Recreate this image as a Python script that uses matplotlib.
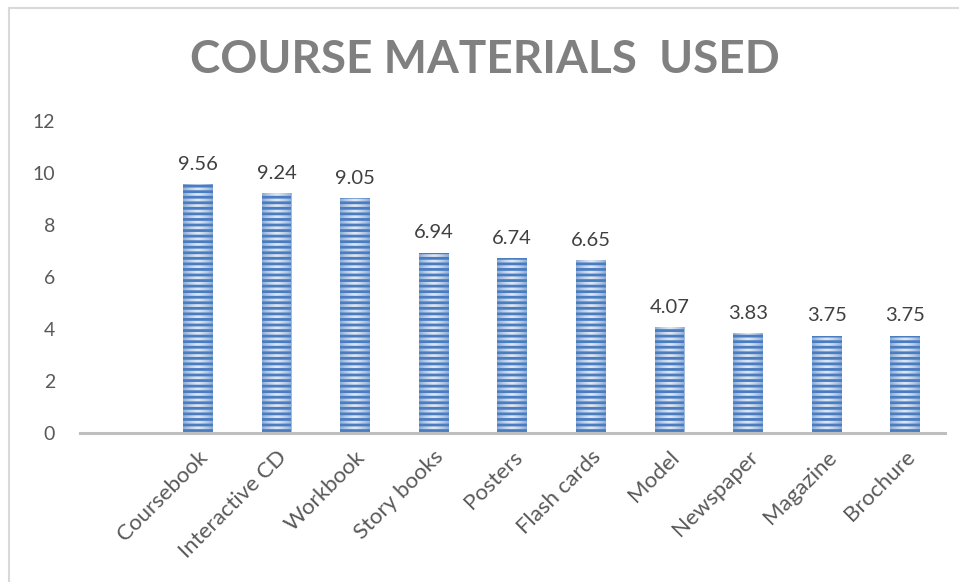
import matplotlib
matplotlib.use("Agg")
import matplotlib.pyplot as plt
import numpy as np
from matplotlib.lines import Line2D
from matplotlib.colors import LinearSegmentedColormap

categories = ["Coursebook", "Interactive CD", "Workbook", "Story books", "Posters",
              "Flash cards", "Model", "Newspaper", "Magazine", "Brochure"]
values = [9.56, 9.24, 9.05, 6.94, 6.74, 6.65, 4.07, 3.83, 3.75, 3.75]
yticks = [0, 2, 4, 6, 8, 10, 12]
title = "COURSE MATERIALS  USED"

plt.rcParams['font.family'] = ['Lato', 'DejaVu Sans']
plt.rcParams['hatch.linewidth'] = 2.0

fig = plt.figure(figsize=(9.59, 5.82), dpi=100)
ax = fig.add_axes([0.0834, 0.256, 0.9016, 0.536])

x = np.arange(len(categories))
bars = ax.bar(x, values, width=0.38, color='#c9d8ec', edgecolor='none', zorder=2)

# horizontal gradient (lighter in the middle) clipped to each bar
grad = np.abs(np.linspace(-1, 1, 64))[None, :]
cmap = LinearSegmentedColormap.from_list('g', [(1, 1, 1, 0.4), (0.42, 0.58, 0.8, 0.65)])
for b in bars:
    x0, y0 = b.get_x(), b.get_y()
    w, h = b.get_width(), b.get_height()
    im = ax.imshow(grad, extent=(x0, x0 + w, y0, y0 + h), aspect='auto', cmap=cmap,
                   vmin=0, vmax=1, zorder=3, interpolation='bilinear')
    im.set_clip_path(b)

# stripe overlay
ax.bar(x, values, width=0.38, facecolor='none', edgecolor='#4a7cc0', linewidth=0,
       hatch='---', zorder=4)

for xi, v in zip(x, values):
    ax.annotate(f"{v:.2f}", (xi, v), xytext=(0, 8), textcoords='offset points',
                ha='center', va='bottom', fontsize=14.5, color='#404040')

ax.set_xlim(-1.5, 9.5)
ax.set_ylim(0, 12)
ax.set_yticks(yticks)
ax.set_yticklabels([str(t) for t in yticks], fontsize=14, color='#595959')
ax.set_xticks(x)
ax.set_xticklabels(categories, rotation=45, ha='right', rotation_mode='anchor',
                   fontsize=16, color='#595959')
ax.tick_params(axis='y', length=0, pad=18)
ax.tick_params(axis='x', length=0, pad=10)
for s in ['top', 'right', 'left']:
    ax.spines[s].set_visible(False)
ax.spines['bottom'].set_color('#bfbfbf')
ax.spines['bottom'].set_linewidth(2.2)
ax.spines['bottom'].set_zorder(5)

fig.text(0.506, 0.897, title, ha='center', va='center', fontsize=33,
         fontweight='bold', color='#808080')

# chart-area border (top and left only visible)
fig.add_artist(Line2D([0.0094, 1.0], [0.986, 0.986], color='#d9d9d9', lw=1.5))
fig.add_artist(Line2D([0.0094, 0.0094], [0.0, 0.986], color='#d9d9d9', lw=1.5))

fig.savefig("out.png", dpi=100)
